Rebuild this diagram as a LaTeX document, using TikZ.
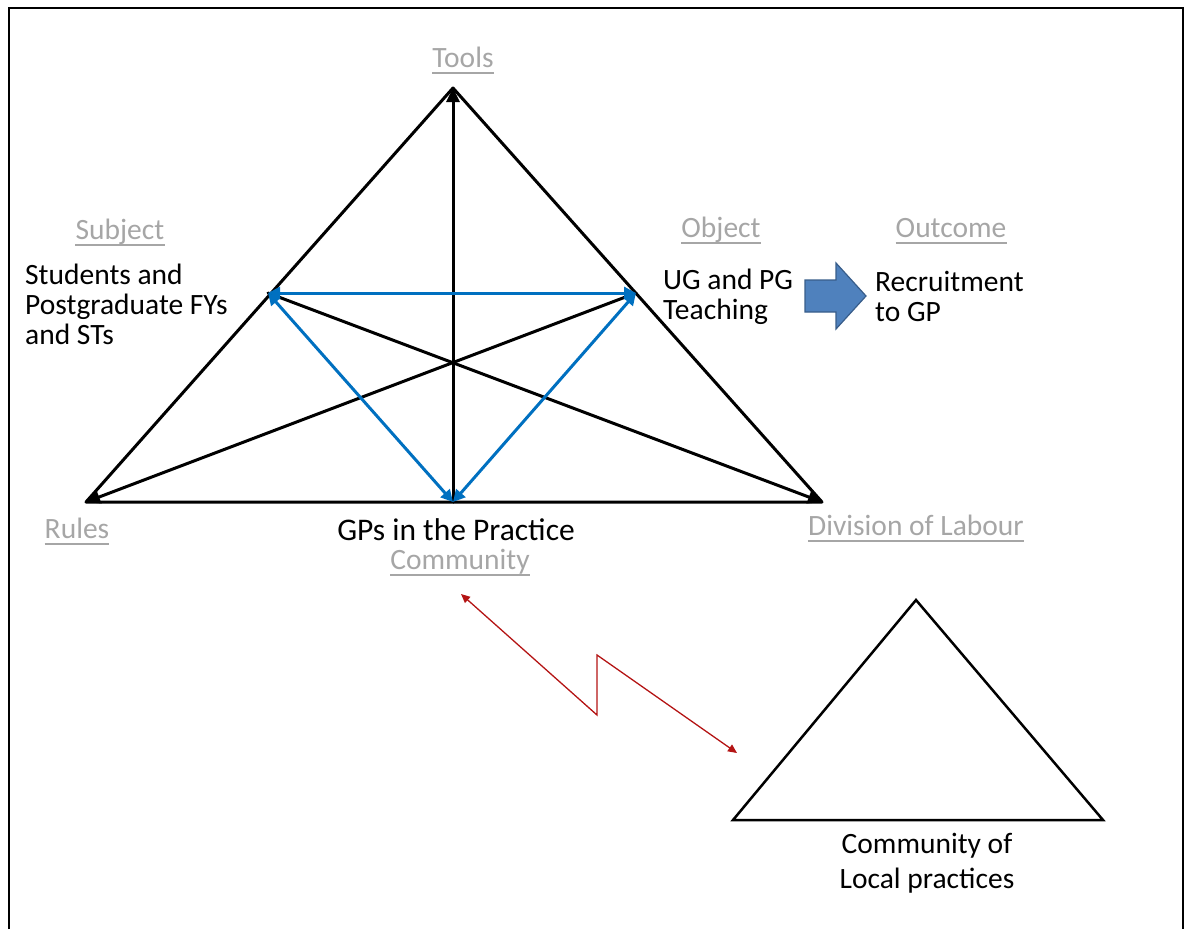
\documentclass[tikz,border=0pt]{standalone}
\usepackage{fontspec}
\setmainfont{Carlito}
\usetikzlibrary{arrows.meta}
\definecolor{labgray}{RGB}{166,166,166}
\definecolor{linkblue}{RGB}{0,112,192}
\definecolor{arrowfill}{RGB}{79,129,189}
\definecolor{arrowedge}{RGB}{56,93,138}
\definecolor{zigred}{RGB}{180,20,20}

% grey underlined heading: name, position of baseline, text
\newcommand\headlabel[3]{%
  \node[lab] (#1) at (#2) {#3};
  \draw[labline] ([yshift=-6pt]#1.base west) -- ([yshift=-6pt]#1.base east);}

\begin{document}
\begin{tikzpicture}[x=1pt,y=-1pt,
  edge/.style={line width=3pt, black, line cap=round, line join=round},
  tip/.style={-{Triangle[length=14pt,width=13pt]}},
  link/.style={line width=3pt, linkblue,
    {Triangle[length=12pt,width=12pt]}-{Triangle[length=12pt,width=12pt]}},
  lab/.style={text=labgray, font=\fontsize{29.5}{34}\selectfont, inner sep=0pt, anchor=base},
  labline/.style={labgray, line width=2pt},
  body/.style={font=\fontsize{29.5}{30}\selectfont, inner sep=0pt, anchor=base west, align=left},
  zig/.style={zigred, line width=1.3pt,
    {Triangle[length=9pt,width=8pt]}-{Triangle[length=9pt,width=8pt]}},
  small/.style={line width=2.5pt, black, line join=miter}
]
\useasboundingbox (0,0) rectangle (1188,929);

% page frame (open at the bottom)
\draw[line width=2pt] (9,929) -- (9,8) -- (1183,8) -- (1183,929);

% vertices of the activity triangle
\coordinate (T) at (453,88);
\coordinate (R) at (86,502);
\coordinate (D) at (822,502);
\coordinate (C) at (453,502);
\coordinate (S) at (268,293);
\coordinate (O) at (636,293);

% outer triangle
\draw[edge] (R) -- (T) -- (D) -- cycle;
% black arrows through the centre
\draw[edge, tip] (C) -- (T);
\draw[edge, tip] (S) -- (D);
\draw[edge, tip] (O) -- (R);

% blue two-way links
\draw[link] (S) -- (O);
\draw[link] (C) -- (S);
\draw[link] (C) -- (O);

% headings
\headlabel{tools}{463,67}{Tools}
\headlabel{subject}{120,239}{Subject}
\headlabel{object}{721,237}{Object}
\headlabel{outcome}{951,237}{Outcome}
\headlabel{rules}{77,538}{Rules}
\headlabel{division}{916,535}{Division of Labour}
\headlabel{community}{460,569}{Community}

% contents (anchored at the baseline of the last line)
\node[body] (students) at (25,344) {Students and\\Postgraduate FYs\\and STs};
\node[body] (teaching) at (663,319) {UG and PG\\Teaching};
\node[body] (recruit) at (875,321) {Recruitment\\to GP};
\node[body, font=\fontsize{31.5}{31}\selectfont, anchor=base] (gps) at (456,540) {GPs in the Practice};

% block arrow towards the outcome
\draw[arrowedge, line width=1.2pt, fill=arrowfill, line join=miter]
  (805,280) -- (836,280) -- (836,263) -- (866,296) -- (836,329) -- (836,312) -- (805,312) -- cycle;

% second, local triangle
\coordinate (LA) at (916,600);
\coordinate (LL) at (733,820);
\coordinate (LR) at (1103,820);
\draw[small] (LA) -- (LL) -- (LR) -- cycle;
\node[font=\fontsize{29.5}{35}\selectfont, inner sep=0pt, anchor=base, align=center] (local) at (927,888)
  {Community of\\Local practices};

% lightning link between the two communities
\coordinate (Z1) at (461,594);
\coordinate (Z2) at (597,715);
\coordinate (Z3) at (597,655);
\coordinate (Z4) at (737,753);
\draw[zig] (Z1) -- (Z2) -- (Z3) -- (Z4);
\end{tikzpicture}
\end{document}
